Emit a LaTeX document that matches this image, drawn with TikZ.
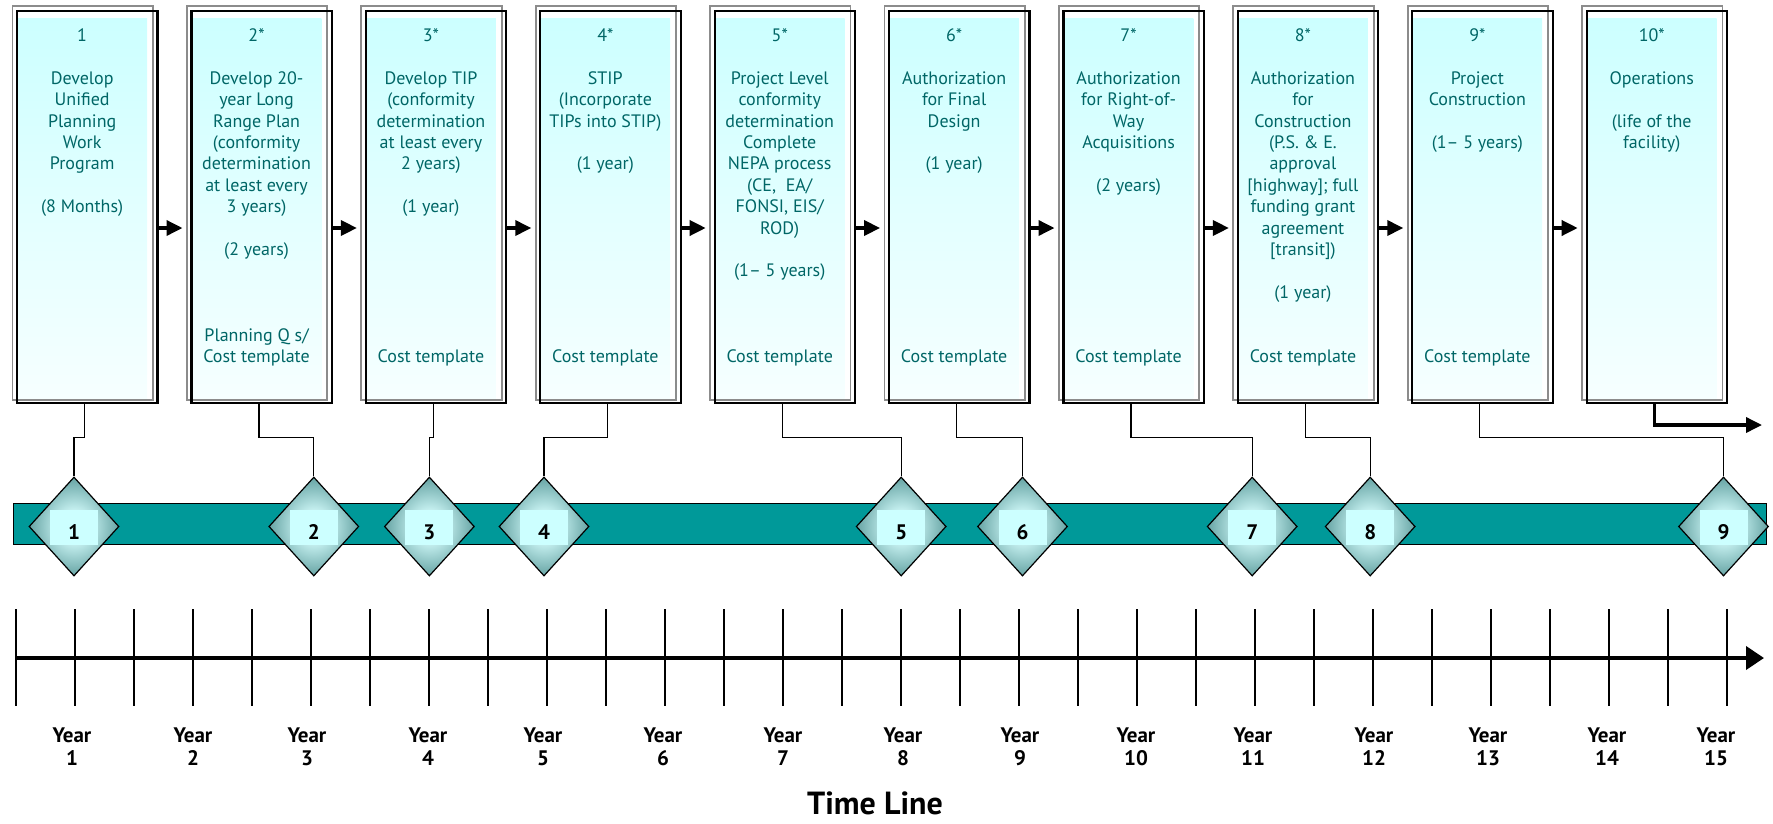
\documentclass[tikz,border=0pt]{standalone}
\usepackage{fontspec}
\setmainfont{PT Sans}
\usetikzlibrary{shapes.geometric,arrows.meta,calc}
\definecolor{tealtxt}{RGB}{0,102,102}
\definecolor{barteal}{RGB}{0,153,153}
\definecolor{cyanlt}{RGB}{204,255,255}
\definecolor{cyanmid}{RGB}{226,255,255}
\definecolor{cyanbot}{RGB}{246,255,255}
\definecolor{dmdout}{RGB}{34,100,100}
\definecolor{dmdmid}{RGB}{85,150,150}
\definecolor{dmdin}{RGB}{200,242,242}
\definecolor{shadowgray}{RGB}{140,140,140}
\pgfdeclareradialshading{dmdshade}{\pgfpoint{0bp}{0bp}}{color(0bp)=(dmdin); color(8bp)=(dmdin); color(28bp)=(dmdmid); color(50bp)=(dmdout)}
\newcommand\boxtx[2]{\parbox[c][380pt][t]{128pt}{\centering\rule{0pt}{23.5pt}#1\par\vfill #2\par\vspace{32pt}}}
\newcommand\blk{\\[21.4pt]}
\begin{document}
\begin{tikzpicture}[x=1pt,y=-1pt,
  procbox/.style={rectangle, inner sep=0pt, minimum width=129.7pt, minimum height=380pt,
     top color=cyanlt, bottom color=cyanbot, middle color=cyanmid, text=tealtxt,
     font=\fontsize{18}{21.4}\selectfont},
  grayframe/.style={draw=shadowgray, line width=1.8pt},
  blackframe/.style={draw=black, line width=2.2pt},
  flowarr/.style={draw=black, line width=3.5pt, -{Triangle[length=16pt,width=15pt]}},
  connline/.style={draw=black, line width=1.2pt},
  dmd/.style={diamond, draw=black, line width=1.2pt, inner sep=0pt, minimum width=90pt,
     minimum height=99pt, shading=dmdshade},
  dmdlbl/.style={rectangle, fill=cyanlt, inner sep=0pt, minimum width=48pt, minimum height=35pt,
     font=\fontsize{21}{21}\selectfont\bfseries, text height=25pt, text depth=2pt},
  axisline/.style={draw=black, line width=4pt, -{Triangle[length=18pt,width=23pt]}},
  tickline/.style={draw=black, line width=1.3pt},
  yearlbl/.style={align=center, font=\fontsize{21}{22.5}\selectfont\bfseries, anchor=north, inner sep=0pt},
  titlelbl/.style={font=\fontsize{32}{32}\selectfont\bfseries, anchor=base, inner sep=0pt}
]
\useasboundingbox (0,0) rectangle (1773,823);

% process boxes
\node[procbox] (b1) at (82.15,208) {\boxtx{1\blk Develop\\Unified\\Planning\\Work\\Program\blk (8 Months)}{}};
\node[procbox] (b2) at (256.55,208) {\boxtx{2*\blk Develop 20-\\year Long\\Range Plan\\(conformity\\determination\\at least every\\3 years)\blk (2 years)}{Planning Q s/\\Cost template}};
\node[procbox] (b3) at (430.95,208) {\boxtx{3*\blk Develop TIP\\(conformity\\determination\\at least every\\2 years)\blk (1 year)}{Cost template}};
\node[procbox] (b4) at (605.35,208) {\boxtx{4*\blk STIP\\(Incorporate\\TIPs into STIP)\blk (1 year)}{Cost template}};
\node[procbox] (b5) at (779.75,208) {\boxtx{5*\blk Project Level\\conformity\\determination\\Complete\\NEPA process\\(CE,~ EA/\\FONSI, EIS/\\ROD)\blk (1– 5 years)}{Cost template}};
\node[procbox] (b6) at (954.15,208) {\boxtx{6*\blk Authorization\\for Final\\Design\blk (1 year)}{Cost template}};
\node[procbox] (b7) at (1128.55,208) {\boxtx{7*\blk Authorization\\for Right-of-\\Way\\Acquisitions\blk (2 years)}{Cost template}};
\node[procbox] (b8) at (1302.95,208) {\boxtx{8*\blk Authorization\\for\\Construction\\(P.S. \& E.\\approval\\{[highway]; full}\\funding grant\\agreement\\{[transit])}\blk (1 year)}{Cost template}};
\node[procbox] (b9) at (1477.35,208) {\boxtx{9*\blk Project\\Construction\blk (1– 5 years)}{Cost template}};
\node[procbox] (b10) at (1651.75,208) {\boxtx{10*\blk Operations\blk (life of the\\facility)}{}};

\foreach \k in {1,...,10} {
  \draw[grayframe] ($(b\k.north west)+(-4.6,-12)$) rectangle ($(b\k.south east)+(5.7,2)$);
  \draw[blackframe] ($(b\k.north west)+(0,-7)$) rectangle ($(b\k.south east)+(10.3,5)$);
}

% flow arrows between boxes
\foreach \a/\b in {1/2,2/3,3/4,4/5,5/6,6/7,7/8,8/9,9/10}
  \draw[flowarr] ($(b\a.east)+(10.3,20)$) -- ($(b\b.west)+(-9,20)$);

% bar
\path[draw=black, line width=1pt, fill=barteal] (13.4,503.3) rectangle (1766,544);

% milestones
\foreach \k/\x in {1/74, 2/313.8, 3/429.4, 4/544, 5/901.2, 6/1022.5, 7/1252.2, 8/1370.2, 9/1723.5} {
  \node[dmd] (d\k) at (\x,526.5) {};
  \node[dmdlbl] (l\k) at (\x,527.5) {\k};
}

% connectors box -> milestone
\foreach \k in {1,...,9}
  \draw[connline] ($(b\k.south)+(2.5,5)$) -- ++(0,34) -| (d\k.north);

% operations arrow
\coordinate (opsend) at (1762,425);
\draw[flowarr] ($(b10.south)+(2.5,5)$) |- (opsend);

% time axis
\coordinate (axs) at (16,658);
\coordinate (axe) at (1764,658);
\draw[axisline] (axs) -- (axe);
\foreach \k in {0,...,29}
  \draw[tickline] ({16+59*\k},609) -- ({16+59*\k},706);

\foreach \n/\x in {1/72,2/193,3/307,4/428,5/543,6/663,7/783,8/903,9/1020,10/1136,11/1253,12/1374,13/1488,14/1607,15/1716}
  \node[yearlbl] (y\n) at (\x,728) {Year\\\n};

\node[titlelbl] (tl) at (875,814) {Time Line};
\end{tikzpicture}
\end{document}
